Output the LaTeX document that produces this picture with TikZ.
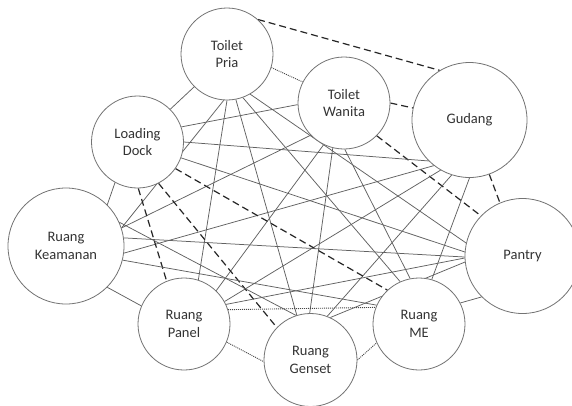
\documentclass[tikz,border=0pt]{standalone}
\usepackage{fontspec}
\setmainfont{Carlito}
\usetikzlibrary{backgrounds}
\begin{document}
\begin{tikzpicture}[x=1pt,y=-1pt,
  room/.style={circle, draw=black!55, line width=0.8pt, fill=white, align=center,
    text=black!80, font=\fontsize{14.5}{17.5}\selectfont, inner sep=0pt},
  solidlink/.style={draw=black!62, line width=0.75pt},
  dashlink/.style={draw=black!85, line width=1.2pt, dash pattern=on 7pt off 4pt},
  dotlink/.style={draw=black!72, line width=0.9pt, dash pattern=on 1pt off 1pt},
]
\useasboundingbox (0,0) rectangle (572,405);
\clip (0,0) rectangle (572,405);

% rooms
\node[room, minimum size=92pt]  (tp) at (227,54)    {Toilet\\Pria};
\node[room, minimum size=92pt]  (tw) at (344,103)   {Toilet\\Wanita};
\node[room, minimum size=115pt] (g)  at (469.5,120) {Gudang};
\node[room, minimum size=92pt]  (ld) at (137.5,142) {Loading\\Dock};
\node[room, minimum size=116pt] (k)  at (66,246)    {Ruang\\Keamanan};
\node[room, minimum size=115pt] (p)  at (522.5,256) {Pantry};
\node[room, minimum size=92pt]  (pa) at (184,324)   {Ruang\\Panel};
\node[room, minimum size=92pt]  (me) at (419,324)   {Ruang\\ME};
\node[room, minimum size=93pt]  (ge) at (310.5,360) {Ruang\\Genset};

\begin{pgfonlayer}{background}
\fill[white] (0,0) rectangle (572,405);
% Toilet Pria
\draw[dotlink]   (tp.-17) -- (tw.153);
\draw[dashlink]  (tp.48)  -- (g.121);
\draw[solidlink] (tp.225) -- (ld.45);
\draw[solidlink] (tp.266) -- (k.18);
\draw[solidlink] (tp.270) -- (pa.72);
\draw[solidlink] (tp.281) -- (ge.107);
\draw[solidlink] (tp.290) -- (me.114);
\draw[solidlink] (tp.300) -- (p.167);
% Toilet Wanita
\draw[dashlink]  (tw.0)   -- (g.168);
\draw[dashlink]  (tw.-45) -- (p.136);
\draw[solidlink] (tw.182) -- (ld.19);
\draw[solidlink] (tw.224) -- (k.18);
\draw[solidlink] (tw.244) -- (pa.46);
\draw[solidlink] (tw.256) -- (ge.91);
\draw[solidlink] (tw.271) -- (me.101);
% Gudang
\draw[dashlink]  (g.290)  -- (p.113);
\draw[solidlink] (ld.0)   -- (g.225);
\draw[solidlink] (k.-7)   -- (g.232);
\draw[solidlink] (pa.29)  -- (g.240);
\draw[solidlink] (ge.69)  -- (g.252);
\draw[solidlink] (me.74)  -- (g.270);
% Loading Dock
\draw[solidlink] (ld.-20) -- (p.176);
\draw[dashlink]  (ld.-35) -- (me.133);
\draw[dashlink]  (ld.-63) -- (ge.136);
\draw[dashlink]  (ld.-89) -- (pa.112);
\draw[solidlink] (ld.241) -- (k.45);
% Ruang Keamanan
\draw[solidlink] (k.-45)  -- (pa.157);
\draw[solidlink] (k.8)    -- (p.181);
\draw[solidlink] (k.-14)  -- (me.156);
\draw[solidlink] (k.24)   -- (ge.108);
% Pantry
\draw[solidlink] (pa.25)  -- (p.182);
\draw[solidlink] (ge.65)  -- (p.186);
\draw[solidlink] (me.27)  -- (p.225);
% lower rooms
\draw[dotlink]   (pa.18)  -- (me.159);
\draw[dotlink]   (pa.-23) -- (ge.182);
\draw[dotlink]   (ge.0)   -- (me.204);
\end{pgfonlayer}
\end{tikzpicture}
\end{document}
